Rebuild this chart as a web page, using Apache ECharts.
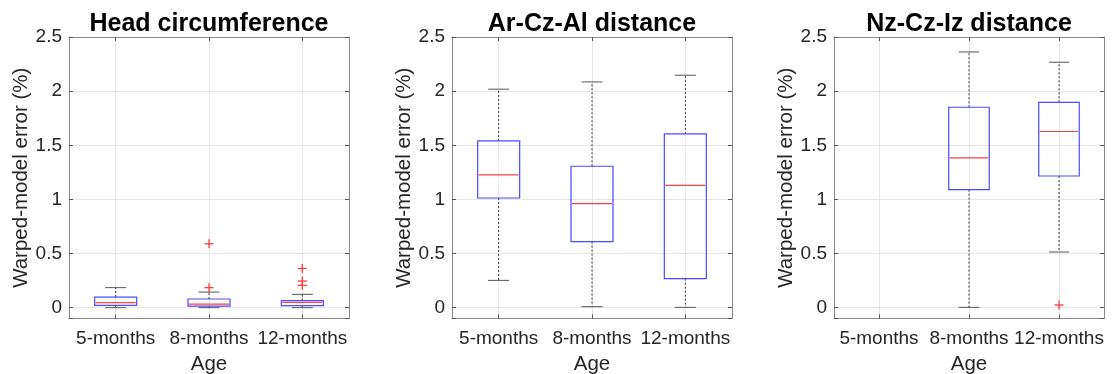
<!DOCTYPE html>
<html><head><meta charset="utf-8">
<script src="https://cdn.jsdelivr.net/npm/echarts@6/dist/echarts.min.js"></script>
<style>html,body{margin:0;padding:0;background:#fff}#c{width:1114px;height:374px}</style>
</head><body><div id="c"></div>
<script>
const categories = ['5-months', '8-months', '12-months'];
const panelTitles = ['Head circumference', 'Ar-Cz-Al distance', 'Nz-Cz-Iz distance'];
const yAxisName = 'Warped-model error (%)';
const xAxisName = 'Age';
const yTickValues = [0, 0.5, 1, 1.5, 2, 2.5];
// per category: [lowerWhisker, q1, median, q3, upperWhisker]; null = no data
const headStats = [[0.0, 0.021, 0.046, 0.098, 0.185], [0.0, 0.015, 0.033, 0.080, 0.144], [0.0, 0.018, 0.049, 0.065, 0.123]];
const headOutliers = [[], [0.185, 0.59], [0.206, 0.246, 0.362]];
const arczalStats = [[0.252, 1.013, 1.226, 1.54, 2.018], [0.009, 0.61, 0.961, 1.306, 2.085], [0.003, 0.268, 1.13, 1.605, 2.147]];
const arczalOutliers = [[], [], []];
const nzczizStats = [null, [0.003, 1.09, 1.383, 1.851, 2.362], [0.514, 1.216, 1.627, 1.897, 2.267]];
const nzczizOutliers = [[], [], [0.025]];

const FONT = "'Liberation Sans', Arial, Helvetica, sans-serif";
const TXT = '#262626';
const panels = [
  { stats: headStats, outliers: headOutliers, left: 69, width: 280 },
  { stats: arczalStats, outliers: arczalOutliers, left: 452, width: 280 },
  { stats: nzczizStats, outliers: nzczizOutliers, left: 834, width: 270 }
];
const TOP = 37, HEIGHT = 281.5;

function boxRender(params, api) {
  const x = api.value(0);
  const lo = api.value(1), q1 = api.value(2), med = api.value(3), q3 = api.value(4), hi = api.value(5);
  const band = api.size([1, 0])[0];
  const hw = band * 0.225;
  const cw = hw / 2;
  const pLo = api.coord([x, lo]), pQ1 = api.coord([x, q1]), pMed = api.coord([x, med]);
  const pQ3 = api.coord([x, q3]), pHi = api.coord([x, hi]);
  const cx = pMed[0];
  const wStyle = { stroke: '#3a3a3a', lineWidth: 1, lineDash: [2, 2] };
  const cStyle = { stroke: '#555', lineWidth: 1 };
  return {
    type: 'group',
    children: [
      { type: 'line', shape: { x1: cx, y1: pQ3[1], x2: cx, y2: pHi[1] }, style: wStyle },
      { type: 'line', shape: { x1: cx, y1: pQ1[1], x2: cx, y2: pLo[1] }, style: wStyle },
      { type: 'line', shape: { x1: cx - cw, y1: pHi[1], x2: cx + cw, y2: pHi[1] }, style: cStyle },
      { type: 'line', shape: { x1: cx - cw, y1: pLo[1], x2: cx + cw, y2: pLo[1] }, style: cStyle },
      { type: 'rect', shape: { x: cx - hw, y: pQ3[1], width: 2 * hw, height: pQ1[1] - pQ3[1] },
        style: { fill: 'none', stroke: '#4a4aff', lineWidth: 1.2 } },
      { type: 'line', shape: { x1: cx - hw + 1, y1: pMed[1], x2: cx + hw - 1, y2: pMed[1] },
        style: { stroke: '#ff4040', lineWidth: 1.2 } }
    ]
  };
}
function plusRender(params, api) {
  const p = api.coord([api.value(0), api.value(1)]);
  const s = 4.5;
  const st = { stroke: '#ff3b3b', lineWidth: 1.3 };
  return {
    type: 'group',
    children: [
      { type: 'line', shape: { x1: p[0] - s, y1: p[1], x2: p[0] + s, y2: p[1] }, style: st },
      { type: 'line', shape: { x1: p[0], y1: p[1] - s, x2: p[0], y2: p[1] + s }, style: st }
    ]
  };
}

const grid = [], xAxis = [], yAxis = [], series = [], title = [];
panels.forEach((p, i) => {
  grid.push({ left: p.left, width: p.width, top: TOP, height: HEIGHT, show: false,
    containLabel: false, outerBoundsMode: 'none' });
  title.push({
    text: panelTitles[i], left: p.left + p.width / 2, top: 12, textAlign: 'center', padding: 0,
    textStyle: { fontFamily: FONT, fontSize: 25, fontWeight: 'bold', color: '#000' }
  });
  const lineStyle = { color: '#8a8a8a', width: 1 };
  // 3 axes per grid: bottom category (3i), top category (3i+1), hidden value axis for vertical grid (3i+2)
  xAxis.push({
    gridIndex: i, type: 'category', data: categories, boundaryGap: true, position: 'bottom',
    axisLine: { show: true, onZero: false, lineStyle },
    axisTick: { show: true, inside: true, length: 4, alignWithLabel: true, lineStyle: { color: '#555' } },
    axisLabel: { fontFamily: FONT, fontSize: 19, color: TXT, margin: 10.5, interval: 0 },
    splitLine: { show: false },
    name: xAxisName, nameLocation: 'middle', nameGap: 35,
    nameTextStyle: { fontFamily: FONT, fontSize: 20.5, color: TXT }
  });
  xAxis.push({
    gridIndex: i, type: 'category', data: categories, boundaryGap: true, position: 'top',
    axisLine: { show: true, onZero: false, lineStyle },
    axisTick: { show: true, inside: true, length: 4, alignWithLabel: true, lineStyle: { color: '#555' } },
    axisLabel: { show: false }, splitLine: { show: false }
  });
  xAxis.push({
    gridIndex: i, type: 'value', min: -0.5, max: 2.5, splitNumber: 3, position: 'bottom',
    axisLine: { show: false, onZero: false }, axisTick: { show: false }, axisLabel: { show: false },
    splitLine: { show: true, lineStyle: { color: '#e6e6e6' } }
  });
  yAxis.push({
    gridIndex: i, type: 'value', min: -0.1, max: 2.5, splitNumber: 5, position: 'left',
    axisLine: { show: true, onZero: false, lineStyle },
    axisTick: { show: true, inside: true, length: 4, lineStyle: { color: '#555' } },
    axisLabel: {
      fontFamily: FONT, fontSize: 19, color: TXT, margin: 7,
      formatter: v => (yTickValues.some(t => Math.abs(t - v) < 1e-9) ? String(v) : '')
    },
    splitLine: { show: true, lineStyle: { color: '#e6e6e6' } },
    name: yAxisName, nameLocation: 'middle', nameGap: 32,
    nameTextStyle: { fontFamily: FONT, fontSize: 20.5, color: TXT }
  });
  yAxis.push({
    gridIndex: i, type: 'value', min: -0.1, max: 2.5, splitNumber: 5, position: 'right',
    axisLine: { show: true, onZero: false, lineStyle },
    axisTick: { show: true, inside: true, length: 4, lineStyle: { color: '#555' } },
    axisLabel: { show: false }, splitLine: { show: false }
  });
  const boxData = [];
  p.stats.forEach((s, ci) => { if (s) boxData.push([ci].concat(s)); });
  series.push({
    type: 'custom', xAxisIndex: 3 * i, yAxisIndex: 2 * i, renderItem: boxRender,
    data: boxData, encode: { x: 0, y: [1, 2, 3, 4, 5] }, silent: true, z: 3
  });
  const outData = [];
  p.outliers.forEach((arr, ci) => arr.forEach(v => outData.push([ci, v])));
  series.push({
    type: 'custom', xAxisIndex: 3 * i, yAxisIndex: 2 * i, renderItem: plusRender,
    data: outData, encode: { x: 0, y: 1 }, silent: true, z: 4
  });
});

const chart = echarts.init(document.getElementById('c'), null, { renderer: 'canvas' });
chart.setOption({ animation: false, backgroundColor: '#fff', title, grid, xAxis, yAxis, series });
</script>
</body></html>
